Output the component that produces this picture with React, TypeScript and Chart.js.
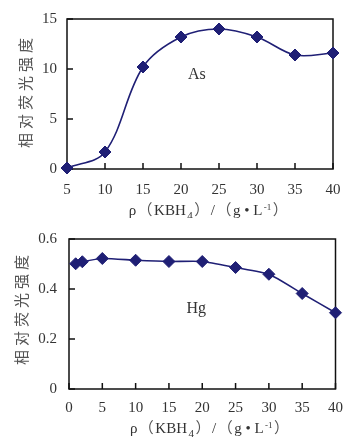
import React, { useEffect, useRef } from 'react';
import { Chart, registerables } from 'chart.js';

Chart.register(...registerables);

// ---- data ----
const asX = [5, 10, 15, 20, 25, 30, 35, 40];
const asY = [0.1, 1.7, 10.2, 13.2, 14.0, 13.2, 11.4, 11.6];
const hgX = [1, 2, 5, 10, 15, 20, 25, 30, 35, 40];
const hgY = [0.501, 0.509, 0.522, 0.515, 0.51, 0.51, 0.486, 0.459, 0.382, 0.305];
const asXTicks = [5, 10, 15, 20, 25, 30, 35, 40];
const asYTicks = [0, 5, 10, 15];
const hgXTicks = [0, 5, 10, 15, 20, 25, 30, 35, 40];
const hgYTicks = [0, 0.2, 0.4, 0.6];
const yTitleChars = ['相', '对', '荧', '光', '强', '度'];
const asLabel = 'As';
const hgLabel = 'Hg';

const SERIF = '"Liberation Serif", "Times New Roman", serif';
const CJK = '"Noto Sans CJK SC", sans-serif';
const LINE = '#1f1f75';
const TEXT = '#333';

type Part = { t: string; font: string; dy?: number };
const xTitleParts: Part[] = [
  { t: 'ρ', font: `15px ${SERIF}` },
  { t: '（', font: `15px ${CJK}` },
  { t: 'KBH', font: `15px ${SERIF}` },
  { t: '4', font: `11px ${SERIF}`, dy: 4 },
  { t: '）', font: `15px ${CJK}` },
  { t: '/', font: `15px ${SERIF}` },
  { t: '（', font: `15px ${CJK}` },
  { t: 'g • L', font: `15px ${SERIF}` },
  { t: '-1', font: `9px ${SERIF}`, dy: -5 },
  { t: '）', font: `15px ${CJK}` },
];

const framePlugin = {
  id: 'frame',
  beforeDatasetsDraw(chart: any) {
    const { ctx, chartArea: a, scales } = chart;
    ctx.save();
    ctx.strokeStyle = '#111';
    ctx.lineWidth = 1.5;
    ctx.strokeRect(a.left, a.top, a.right - a.left, a.bottom - a.top);
    ctx.beginPath();
    scales.x.ticks.forEach((t: any) => {
      const px = scales.x.getPixelForValue(t.value);
      ctx.moveTo(px, a.bottom);
      ctx.lineTo(px, a.bottom - 6);
    });
    scales.y.ticks.forEach((t: any) => {
      const py = scales.y.getPixelForValue(t.value);
      ctx.moveTo(a.left, py);
      ctx.lineTo(a.left + 6, py);
    });
    ctx.stroke();
    ctx.restore();
  },
  afterDraw(chart: any, _args: any, opts: any) {
    const { ctx, chartArea: a, scales } = chart;
    ctx.save();
    // element label
    ctx.fillStyle = TEXT;
    ctx.font = `16px ${SERIF}`;
    ctx.textAlign = 'center';
    ctx.textBaseline = 'middle';
    ctx.fillText(opts.label, scales.x.getPixelForValue(opts.lx), scales.y.getPixelForValue(opts.ly));

    // y title, rotated, with spaced characters
    ctx.save();
    const cy = (a.top + a.bottom) / 2 + opts.yTitleShift;
    ctx.translate(opts.yTitleX, cy);
    ctx.rotate(-Math.PI / 2);
    ctx.font = `15px ${CJK}`;
    ctx.fillStyle = '#555';
    ctx.textAlign = 'center';
    ctx.textBaseline = 'middle';
    const pitch = 19;
    const n = yTitleChars.length;
    yTitleChars.forEach((c, i) => {
      ctx.fillText(c, (i - (n - 1) / 2) * pitch, 0);
    });
    ctx.restore();

    // x title with sub/superscript
    ctx.textAlign = 'left';
    ctx.textBaseline = 'alphabetic';
    let total = 0;
    const gap = 1.5;
    xTitleParts.forEach((p) => {
      ctx.font = p.font;
      total += ctx.measureText(p.t).width + gap;
    });
    let x = (a.left + a.right) / 2 + opts.titleShift - total / 2;
    const base = chart.height - opts.titleBottom;
    xTitleParts.forEach((p) => {
      ctx.font = p.font;
      ctx.fillStyle = p.font.includes('CJK') ? '#555' : TEXT;
      ctx.fillText(p.t, x, base + (p.dy || 0));
      x += ctx.measureText(p.t).width + gap;
    });
    ctx.restore();
  },
};

function makeConfig(o: any) {
  return {
    type: 'line',
    data: {
      datasets: [
        {
          data: o.xs.map((x: number, i: number) => ({ x, y: o.ys[i] })),
          borderColor: LINE,
          backgroundColor: LINE,
          borderWidth: 1.6,
          pointStyle: 'rectRot',
          pointRadius: 6,
          pointBorderWidth: 1,
          pointBackgroundColor: LINE,
          pointBorderColor: LINE,
          tension: o.tension,
          clip: false,
        },
      ],
    },
    options: {
      animation: false,
      responsive: true,
      maintainAspectRatio: false,
      events: [],
      layout: { padding: o.padding },
      plugins: {
        legend: { display: false },
        tooltip: { enabled: false },
        frame: {
          label: o.label,
          lx: o.lx,
          ly: o.ly,
          titleShift: o.titleShift,
          titleBottom: o.titleBottom,
          yTitleX: o.yTitleX,
          yTitleShift: o.yTitleShift,
        },
      },
      scales: {
        x: {
          type: 'linear',
          min: o.xMin,
          max: o.xMax,
          afterBuildTicks: (s: any) => {
            s.ticks = o.xTicks.map((v: number) => ({ value: v }));
          },
          afterFit: (s: any) => {
            s.height = o.xAxisH;
          },
          grid: { display: false, drawTicks: false },
          border: { display: false },
          ticks: {
            padding: o.xTickPad,
            color: TEXT,
            font: { family: SERIF, size: 15 },
            maxRotation: 0,
          },
        },
        y: {
          min: o.yMin,
          max: o.yMax,
          afterBuildTicks: (s: any) => {
            s.ticks = o.yTicks.map((v: number) => ({ value: v }));
          },
          afterFit: (s: any) => {
            s.width = o.yAxisW;
          },
          grid: { display: false, drawTicks: false },
          border: { display: false },
          ticks: {
            padding: o.yTickPad,
            color: TEXT,
            font: { family: SERIF, size: 15 },
            callback: (v: number) => String(v),
          },
        },
      },
    },
    plugins: [framePlugin],
  };
}

function ChartBox({ cfg, style }: { cfg: any; style: React.CSSProperties }) {
  const ref = useRef<HTMLCanvasElement | null>(null);
  useEffect(() => {
    if (!ref.current) return;
    const chart = new Chart(ref.current, makeConfig(cfg) as any);
    return () => chart.destroy();
  }, []);
  return (
    <div style={{ position: 'absolute', ...style }}>
      <canvas ref={ref} />
    </div>
  );
}

export default function App() {
  const asCfg = {
    xs: asX,
    ys: asY,
    xTicks: asXTicks,
    yTicks: asYTicks,
    xMin: 5,
    xMax: 40,
    yMin: 0,
    yMax: 15,
    tension: 0.35,
    padding: { left: 0, right: 20, top: 14, bottom: 0 },
    xAxisH: 49,
    yAxisW: 67,
    xTickPad: 12,
    yTickPad: 10,
    label: asLabel,
    lx: 22.1,
    ly: 9.4,
    titleShift: 9,
    titleBottom: 3,
    yTitleX: 25,
    yTitleShift: -1,
  };
  const hgCfg = {
    xs: hgX,
    ys: hgY,
    xTicks: hgXTicks,
    yTicks: hgYTicks,
    xMin: 0,
    xMax: 40,
    yMin: 0,
    yMax: 0.6,
    tension: 0.2,
    padding: { left: 0, right: 8, top: 14, bottom: 0 },
    xAxisH: 48,
    yAxisW: 69,
    xTickPad: 10,
    yTickPad: 12,
    label: hgLabel,
    lx: 19.1,
    ly: 0.32,
    titleShift: 8,
    titleBottom: 4,
    yTitleX: 21,
    yTitleShift: -4,
  };
  return (
    <div style={{ position: 'absolute', left: 0, top: 0, width: 353, height: 437, background: '#fff' }}>
      <ChartBox cfg={asCfg} style={{ left: 0, top: 0, width: 353, height: 218 }} />
      <ChartBox cfg={hgCfg} style={{ left: 0, top: 218, width: 353, height: 219 }} />
    </div>
  );
}
